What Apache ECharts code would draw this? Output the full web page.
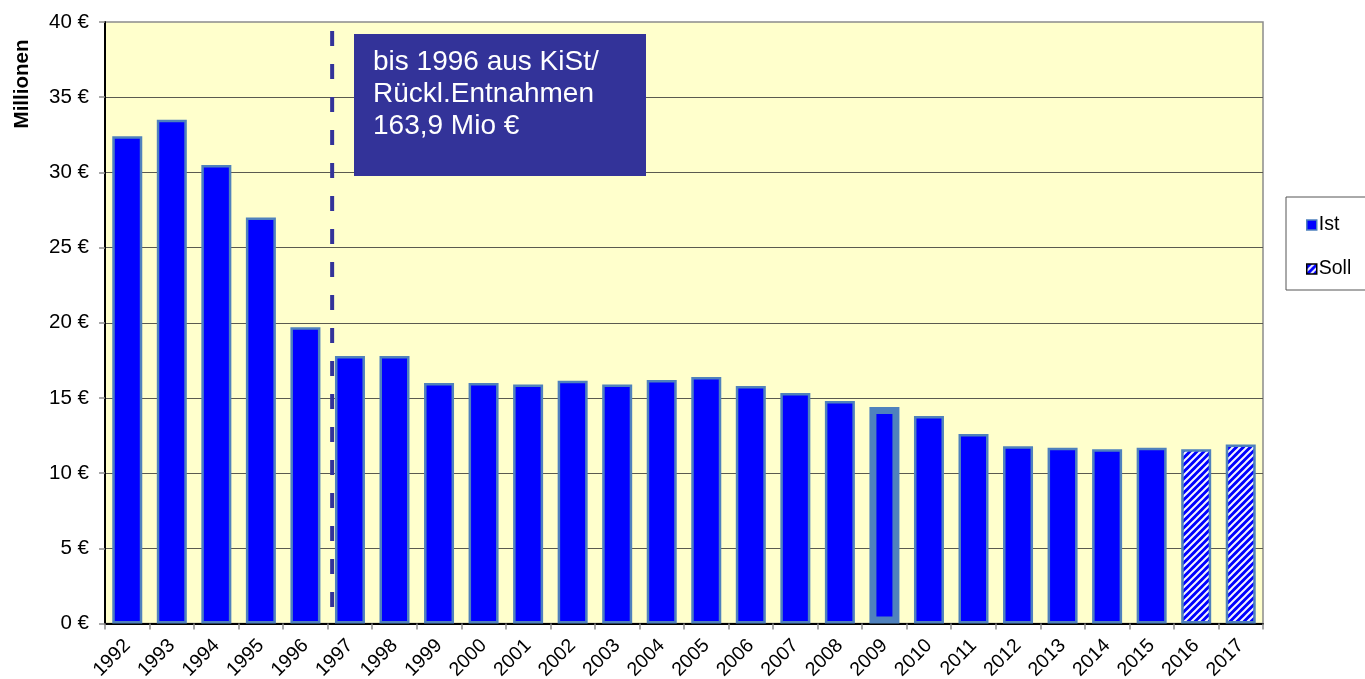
<!DOCTYPE html>
<html>
<head>
<meta charset="utf-8">
<script src="https://cdn.jsdelivr.net/npm/echarts@6/dist/echarts.min.js"></script>
<style>
html,body{margin:0;padding:0;background:#fff;}
#chart{width:1365px;height:679px;}
</style>
</head>
<body>
<div id="chart"></div>
<script>
// ---- data ----
const years = ['1992','1993','1994','1995','1996','1997','1998','1999','2000','2001','2002','2003','2004','2005','2006','2007','2008','2009','2010','2011','2012','2013','2014','2015','2016','2017'];
const istValues = [32.4,33.5,30.5,27.0,19.7,17.8,17.8,16.0,16.0,15.9,16.15,15.9,16.2,16.4,15.8,15.33,14.8,14.4,13.8,12.6,11.8,11.7,11.6,11.7,null,null];
const sollValues = [null,null,null,null,null,null,null,null,null,null,null,null,null,null,null,null,null,null,null,null,null,null,null,null,11.6,11.9];
const highlightYear = '2009';
const yTicks = [0,5,10,15,20,25,30,35,40];
const dividerX = [5.1, 5.1];      // between 1996 and 1997 (category units)
const dividerY = [39.4, 0];
const annotationText = 'bis 1996 aus KiSt/\nRückl.Entnahmen\n163,9 Mio €';
const axisTitle = 'Millionen';
const legendNames = ['Ist','Soll'];

// ---- styles ----
const FONT = '"Liberation Sans", Arial, sans-serif';
const BLUE = '#0000FF';
const EDGE = '#4F81BD';

function stripePattern(){
  const s = 7;
  const c = document.createElement('canvas');
  c.width = s; c.height = s;
  const g = c.getContext('2d');
  g.fillStyle = BLUE; g.fillRect(0,0,s,s);
  g.strokeStyle = '#f4f4ff'; g.lineWidth = 2;
  g.beginPath();
  g.moveTo(-1, s+1); g.lineTo(s+1, -1);
  g.moveTo(-1, 1); g.lineTo(1, -1);
  g.moveTo(s-1, s+1); g.lineTo(s+1, s-1);
  g.stroke();
  return c;
}
const pattern = {image: stripePattern(), repeat: 'repeat'};

const istData = istValues.map((v,i) => years[i] === highlightYear
  ? {value: v, itemStyle: {borderWidth: 7}} : v);

const chart = echarts.init(document.getElementById('chart'), null, {renderer:'canvas'});
chart.setOption({
  animation: false,
  backgroundColor: '#ffffff',
  grid: {left: 105, right: 102, top: 22, bottom: 55.4, show: true,
         containLabel: false, outerBoundsMode: 'none',
         backgroundColor: '#FFFFCC', borderColor: '#8c8c8c', borderWidth: 1.5},
  xAxis: [{
    type: 'category', data: years, boundaryGap: true,
    axisLine: {lineStyle: {color: '#000', width: 2}},
    axisTick: {show: true, length: 6, lineStyle: {color: '#8c8c8c', width: 1.5}},
    axisLabel: {rotate: 45, color: '#000', fontFamily: FONT, fontSize: 19.5, margin: 19, interval: 0},
    splitLine: {show: false}
  }, {
    type: 'value', min: 0, max: years.length, show: false
  }],
  yAxis: {
    type: 'value', min: yTicks[0], max: yTicks[yTicks.length-1], interval: 5,
    axisLine: {show: true, lineStyle: {color: '#000', width: 2}},
    axisTick: {show: true, length: 6, lineStyle: {color: '#8c8c8c', width: 1.5}},
    axisLabel: {formatter: '{value} €', color: '#000', fontFamily: FONT, fontSize: 20.5, margin: 16},
    splitLine: {show: true, showMaxLine: false, lineStyle: {color: '#5a5a50', width: 1.2}}
  },
  legend: {
    orient: 'vertical', left: 1286, top: 197,
    data: [
      {name: legendNames[0], itemStyle: {color: BLUE, borderColor: EDGE, borderWidth: 1.5}},
      {name: legendNames[1], itemStyle: {color: pattern, borderColor: '#000', borderWidth: 1.5}}
    ],
    icon: 'rect', itemWidth: 10, itemHeight: 10, itemGap: 24,
    padding: [18, 30, 11, 20],
    borderColor: '#555', borderWidth: 1,
    textStyle: {fontFamily: FONT, fontSize: 19.5, color: '#000', padding: [0,0,0,-3]}
  },
  series: [
    {name: legendNames[0], type: 'bar', data: istData, barWidth: 30, barGap: '-100%',
     itemStyle: {color: BLUE, borderColor: EDGE, borderWidth: 2.5}},
    {name: legendNames[1], type: 'bar', data: sollValues, barWidth: 30, barGap: '-100%',
     itemStyle: {color: pattern, borderColor: EDGE, borderWidth: 2.5}},
    {name: 'divider', type: 'line', xAxisIndex: 1, silent: true, symbol: 'none',
     data: dividerX.map((x,i) => [x, dividerY[i]]),
     lineStyle: {color: '#333399', width: 4, type: [15, 18]}, z: 5}
  ],
  graphic: [
    {type: 'rect', shape: {x: 354, y: 34, width: 292, height: 142},
     style: {fill: '#333399'}, z: 10},
    {type: 'text', x: 373, y: 46, z: 11,
     style: {text: annotationText, fill: '#ffffff', font: '28px ' + FONT, lineHeight: 32}},
    {type: 'text', x: 22, y: 84, rotation: Math.PI/2, z: 11,
     style: {text: axisTitle, fill: '#000', font: 'bold 20.5px ' + FONT,
             textAlign: 'center', textVerticalAlign: 'middle'}}
  ]
});
</script>
</body>
</html>
